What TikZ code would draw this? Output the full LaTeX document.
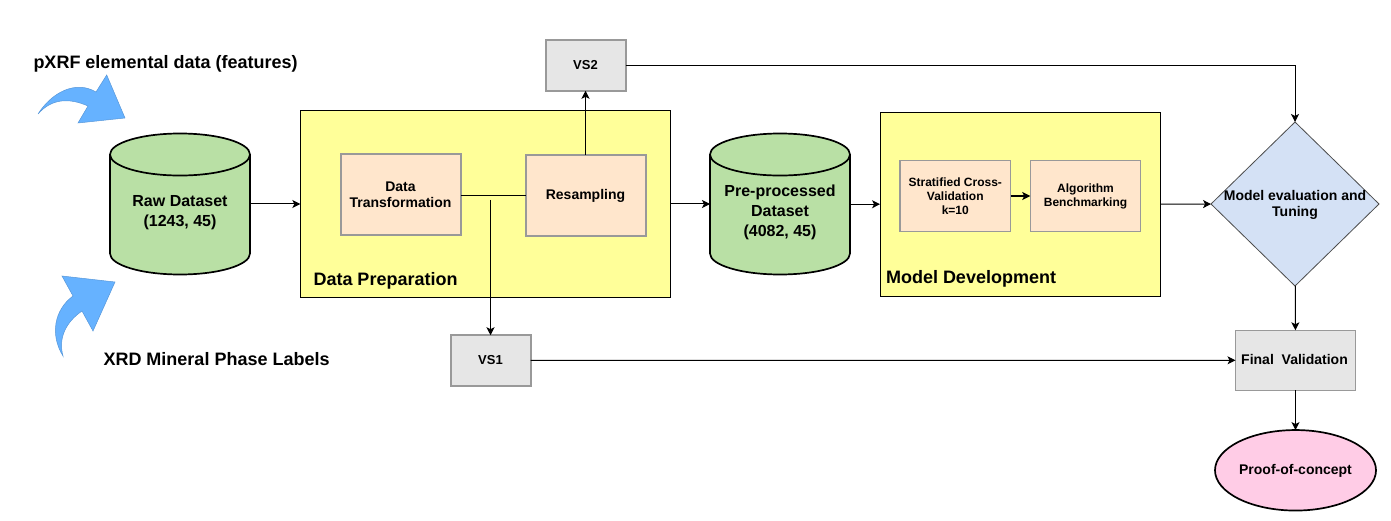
\documentclass[tikz,border=0pt]{standalone}
\usepackage{fontspec}
\setmainfont{Liberation Sans}
\usetikzlibrary{positioning, arrows.meta, shapes.geometric}

\tikzset{
    dbstore/.style={cylinder, shape border rotate=90, aspect=6.3, draw=black, line width=1.7pt, fill=dbgreen, minimum width=140pt, minimum height=141pt, inner sep=0pt, outer sep=0pt, anchor=shape center},
    dbtext/.style={align=center, inner sep=0pt, font=\bfseries\fontsize{16}{20}\selectfont},
    stagebox/.style={rectangle, draw=black, line width=1pt, fill=stageyellow, inner sep=0pt, outer sep=0pt},
    taskbox/.style={rectangle, draw=edgegrey, line width=2pt, fill=taskorange, inner sep=0pt, outer sep=0pt, minimum width=120pt, minimum height=81pt, align=center, font=\bfseries\fontsize{14}{16}\selectfont},
    smalltask/.style={taskbox, line width=1.2pt, minimum width=110.5pt, minimum height=70.5pt, font=\bfseries\fontsize{12}{14}\selectfont},
    holdout/.style={rectangle, draw=edgegrey, line width=2pt, fill=holdgrey, inner sep=0pt, outer sep=0pt, minimum width=80pt, minimum height=50.5pt, font=\bfseries\fontsize{13}{16}\selectfont},
    headtext/.style={inner sep=0pt, font=\bfseries\fontsize{18}{20}\selectfont},
    blockarrow/.style={draw=arrowblue!85!black, line width=0.5pt, fill=arrowblue},
}
\definecolor{dbgreen}{HTML}{B9E0A5}
\definecolor{stageyellow}{HTML}{FFFF99}
\definecolor{taskorange}{HTML}{FFE6CC}
\definecolor{edgegrey}{HTML}{999999}
\definecolor{holdgrey}{HTML}{E6E6E6}
\definecolor{arrowblue}{HTML}{66B2FF}
\definecolor{evalblue}{HTML}{D4E1F5}
\definecolor{conceptpink}{HTML}{FFCCE6}

\begin{document}
\begin{tikzpicture}[x=1pt, y=-1pt, >={Stealth[length=8pt, width=8pt, inset=2pt]}, line width=1pt]
    \useasboundingbox (0,0) rectangle (1391,521);

    % Define nodes
    \node[dbstore] (raw) at (180,204) {\phantom{X}};
    \node[dbtext] (rawtext) at (180,212.5) {Raw Dataset\\(1243, 45)};
    \node[stagebox, minimum width=370pt, minimum height=187.5pt] (prep) at (485.3,204) {};
    \node[taskbox] (transform) at (400.5,195) {Data\\Transformation};
    \node[taskbox] (resample) at (585.5,195.5) {Resampling};
    \node[holdout] (vs2) at (585.5,65.5) {VS2};
    \node[holdout] (vs1) at (490.5,360.5) {VS1};
    \node[dbstore] (preproc) at (780,204) {\phantom{X}};
    \node[dbtext] (preproctext) at (780,212.5) {Pre-processed\\Dataset\\(4082, 45)};
    \node[stagebox, minimum width=280.5pt, minimum height=184pt] (dev) at (1020.3,204.2) {};
    \node[smalltask] (strat) at (955.3,196) {Stratified Cross-\\Validation\\k=10};
    \node[smalltask] (bench) at (1085.5,196) {Algorithm\\Benchmarking};
    \node[diamond, draw=black!70, line width=0.8pt, fill=evalblue, minimum width=168pt, minimum height=164pt, inner sep=0pt, outer sep=0pt] (eval) at (1295,204) {};
    \node[align=center, inner sep=0pt, font=\bfseries\fontsize{14}{16}\selectfont] (evaltext) at (1295,204.5) {Model evaluation and\\Tuning};
    \node[rectangle, draw=edgegrey, line width=1.2pt, fill=holdgrey, inner sep=0pt, outer sep=0pt, minimum width=120pt, minimum height=60pt, font=\bfseries\fontsize{14}{16}\selectfont] (final) at (1295.5,360.3) {};
    \node[inner sep=0pt, font=\bfseries\fontsize{14}{16}\selectfont] (finaltext) at (1294.5,359.3) {Final\ \ Validation};
    \node[ellipse, draw=black, line width=1.7pt, fill=conceptpink, minimum width=161pt, minimum height=80.5pt, inner sep=0pt, outer sep=0pt] (concept) at (1295.5,470.3) {};
    \node[inner sep=0pt, font=\bfseries\fontsize{14}{16}\selectfont] (concepttext) at (1295.5,470.8) {Proof-of-concept};
    \coordinate (split) at (490.5,200);

    % Add labels
    \node[headtext, anchor=west] (xrflabel) at (33,64) {pXRF elemental data (features)};
    \node[headtext, anchor=west] (xrdlabel) at (103,359) {XRD Mineral Phase Labels};
    \node[headtext, anchor=west] (preplabel) at (313,281) {Data Preparation};
    \node[headtext, anchor=west] (devlabel) at (885.5,279) {Model Development};

    % Draw curved block arrows
    \filldraw[blockarrow] (106.7,75) -- (125,118) -- (78,123) -- (88,106) .. controls (70,98) and (52,98) .. (38,114) .. controls (52,92) and (76,80) .. (96,92) -- cycle;
    \filldraw[blockarrow] (62,276) -- (115,282) -- (93,331) -- (82,311) .. controls (66,322) and (58,338) .. (63,356) .. controls (50,335) and (54,310) .. (73,296) -- cycle;

    % Draw edges with arrows
    \draw[->] (raw.east |- prep.west) -- (prep.west);
    \draw (transform.east |- resample.west) -- (resample.west);
    \draw[->] (resample) -- (vs2);
    \draw[->] (split) -- (vs1);
    \draw[->] (prep.east) -- (preproc.west |- prep.east);
    \draw[->] (preproc.east |- dev.west) -- (dev.west);
    \draw[->, line width=1.4pt] (strat) -- (bench);
    \draw[->] (dev) -- (eval);
    \draw[->] (vs2) -| (eval);
    \draw[->] (vs1) -- (final);
    \draw[->] (eval) -- (final);
    \draw[->] (final) -- (concept);
\end{tikzpicture}
\end{document}
